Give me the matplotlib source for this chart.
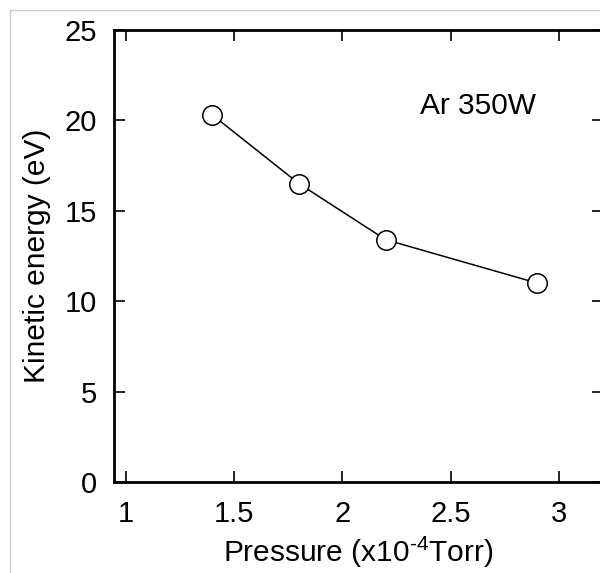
import matplotlib
matplotlib.use("Agg")
import matplotlib.pyplot as plt
from matplotlib.lines import Line2D

pressure = [1.4, 1.8, 2.2, 2.9]
energy = [20.3, 16.5, 13.4, 11.0]
xticks = [1, 1.5, 2, 2.5, 3]
xticklabels = ["1", "1.5", "2", "2.5", "3"]
yticks = [0, 5, 10, 15, 20, 25]
yticklabels = ["0", "5", "10", "15", "20", "25"]

plt.rcParams['font.family'] = ['Liberation Sans', 'DejaVu Sans']
plt.rcParams['mathtext.fontset'] = 'custom'
plt.rcParams['mathtext.rm'] = 'Liberation Sans'
plt.rcParams['mathtext.it'] = 'Liberation Sans:italic'
plt.rcParams['mathtext.bf'] = 'Liberation Sans:bold'

W, H = 600, 573
fig = plt.figure(figsize=(W / 100, H / 100), dpi=100)
left, right, bottom, top = 114, 603, 482, 30
ax = fig.add_axes([left / W, (H - bottom) / H, (right - left) / W, (bottom - top) / H])

ax.plot(pressure, energy, color='black', lw=1.1, marker='o', ms=14,
        mfc='white', mec='black', mew=1.1, zorder=3)

ax.set_xlim(0.946, 1 + (right - 125.7) / 216.7)
ax.set_ylim(0, 25)
ax.set_xticks(xticks)
ax.set_xticklabels(xticklabels)
ax.set_yticks(yticks)
ax.set_yticklabels(yticklabels)
ax.tick_params(direction='in', length=8, width=1.2, top=True, right=True,
               labelsize=21, pad=12)
ax.tick_params(axis='x', pad=13)
for s in ax.spines.values():
    s.set_linewidth(2)

ax.set_xlabel("Pressure (x10$^{\\text{-4}}$Torr)", fontsize=21.5, labelpad=5)
ax.set_ylabel("Kinetic energy (eV)", fontsize=21.5, labelpad=10)

ax.text(2.36, 20.35, "Ar 350W", fontsize=21.5, ha='left', va='baseline')

# light gray page border
fig.add_artist(Line2D([9.5 / W, 1.0], [1 - 10 / H, 1 - 10 / H], color='#cccccc', lw=1,
                      transform=fig.transFigure))
fig.add_artist(Line2D([9.5 / W, 9.5 / W], [0, 1 - 10 / H], color='#cccccc', lw=1,
                      transform=fig.transFigure))

fig.savefig("out.png", dpi=100)
